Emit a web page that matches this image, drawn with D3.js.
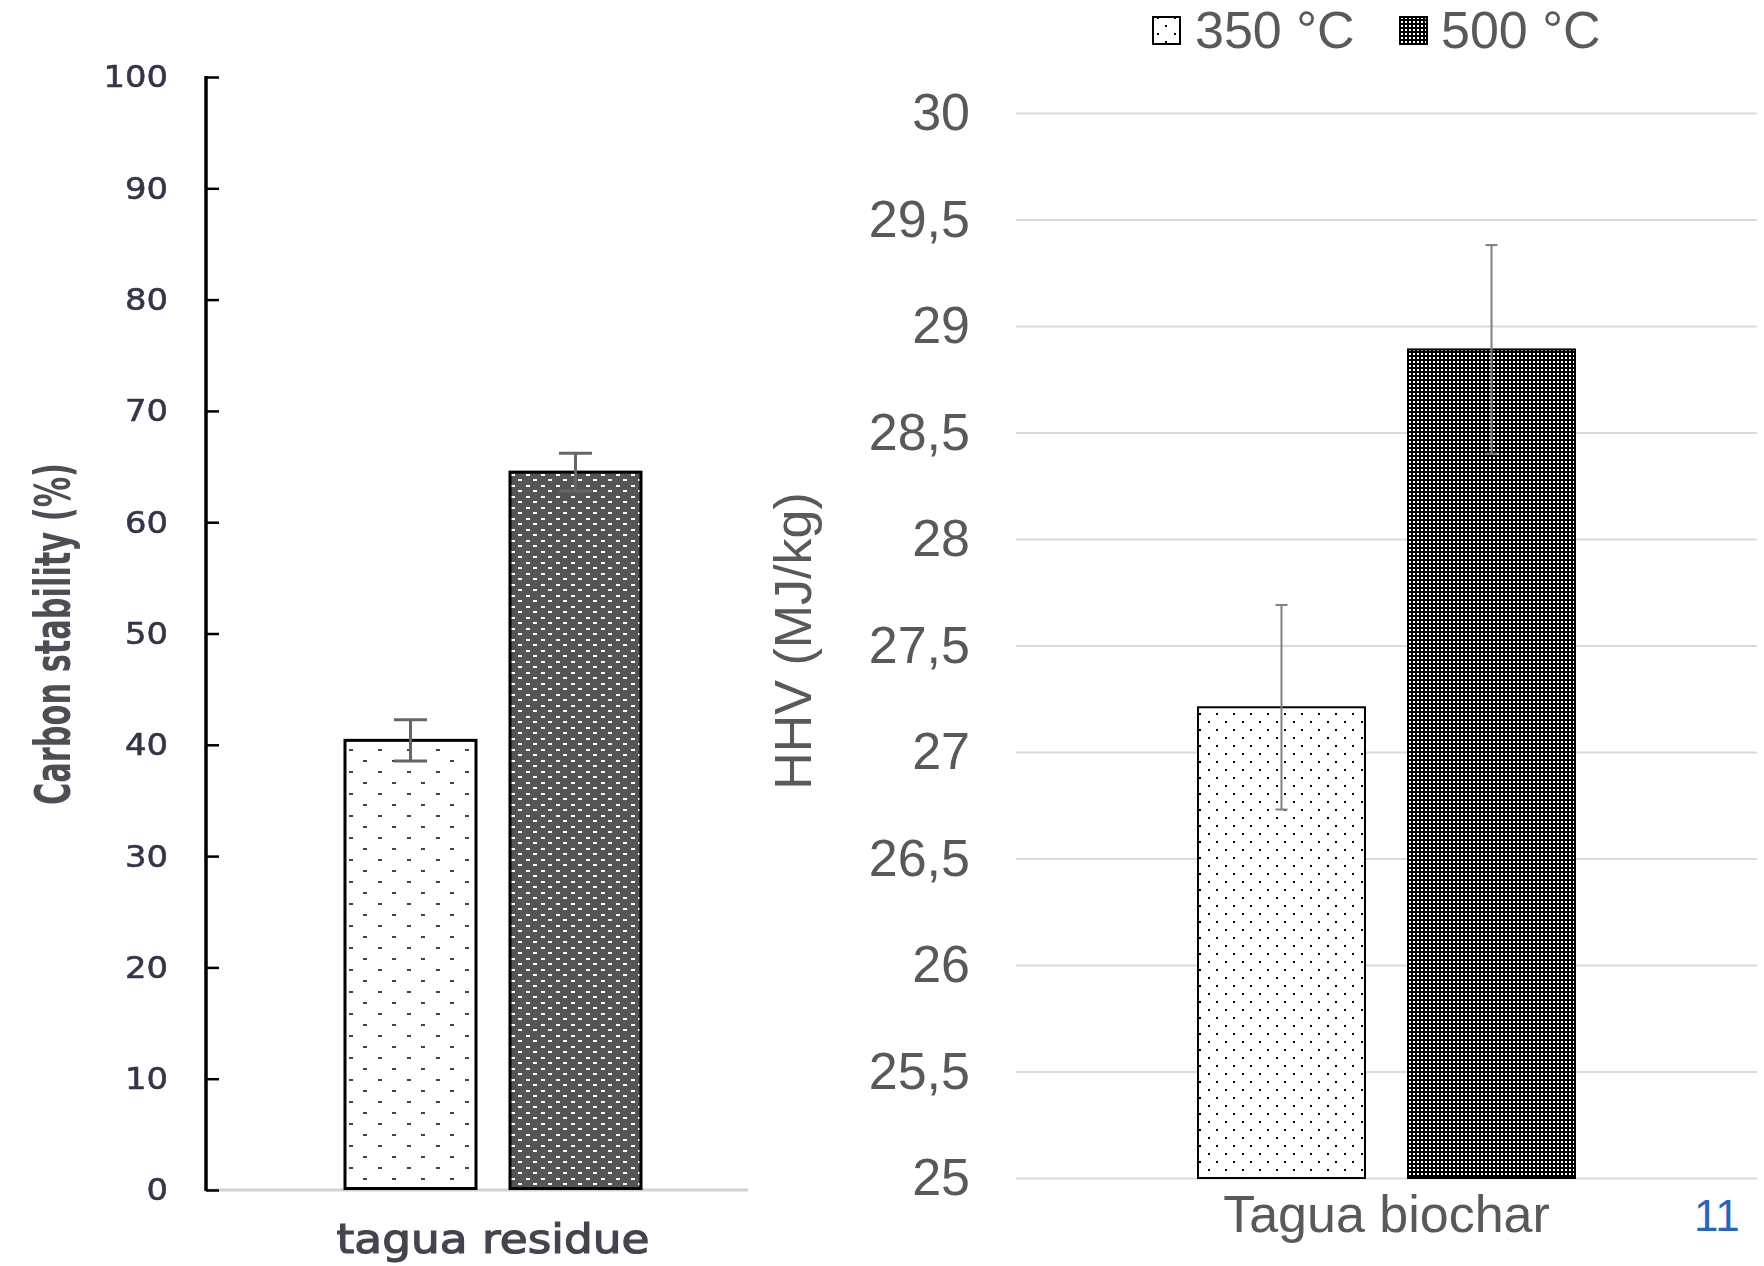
<!DOCTYPE html>
<html>
<head>
<meta charset="utf-8">
<script src="https://cdn.jsdelivr.net/npm/d3@7"></script>
<style>
  html, body { margin: 0; padding: 0; background: #fff; }
  svg { display: block; }
</style>
</head>
<body>
<svg id="chart" width="1764" height="1266"></svg>
<script>
// ---- Data ----
const seriesNames = ["350 °C", "500 °C"];

// Left panel: carbon stability of the tagua residue
const stabilityCategories = ["tagua residue"];
const stabilityValues = [40.4, 64.5];
const stabilityErrors = [1.85, 1.7];
const stabilityTicks = [0, 10, 20, 30, 40, 50, 60, 70, 80, 90, 100];

// Right panel: higher heating value of the tagua biochar
const hhvCategories = ["Tagua biochar"];
const hhvValues = [27.21, 28.89];
const hhvErrors = [0.48, 0.49];
const hhvTicks = [25, 25.5, 26, 26.5, 27, 27.5, 28, 28.5, 29, 29.5, 30];
const hhvTickLabels = ["25", "25,5", "26", "26,5", "27", "27,5", "28", "28,5", "29", "29,5", "30"];

const pageNumber = "11";

// ---- Setup ----
const svg = d3.select("#chart");
svg.append("rect").attr("width", 1764).attr("height", 1266).attr("fill", "#fff");

const defs = svg.append("defs");

function dotPattern(id, w, h, bg, dot, dots) {
  const p = defs.append("pattern")
    .attr("id", id)
    .attr("patternUnits", "userSpaceOnUse")
    .attr("width", w).attr("height", h);
  p.append("rect").attr("width", w).attr("height", h).attr("fill", bg);
  dots.forEach(d => p.append("rect")
    .attr("x", d[0]).attr("y", d[1]).attr("width", d[2]).attr("height", d[3])
    .attr("fill", dot));
}

// Left panel fills
dotPattern("leftLight", 29, 22, "#fff", "#444", [[1, 1, 4, 2], [15, 12, 4, 2]]);
dotPattern("leftDark", 15, 11, "#555", "#fff", [[1, 1, 4, 2], [8, 6, 4, 2]]);
// Right panel fills
dotPattern("rightLight", 17, 16, "#fff", "#000", [[1, 1, 2, 2], [9, 9, 2, 2]]);
dotPattern("rightDark", 4, 4, "#000", "#fff", [[1, 1, 2, 2]]);

const soft = defs.append("filter").attr("id", "soft");
soft.append("feGaussianBlur").attr("stdDeviation", 0.6);

// ================= Left panel =================
const L = { x0: 206, x1: 748, yTop: 77, yBase: 1190 };

const yL = d3.scaleLinear().domain([0, 100]).range([L.yBase, L.yTop]);
const xL0 = d3.scaleBand().domain(stabilityCategories).range([345, 641]);
const xL1 = d3.scaleBand().domain(seriesNames).range([0, xL0.bandwidth()]).paddingInner(0.206);

const left = svg.append("g");

// baseline
left.append("line")
  .attr("x1", L.x0).attr("x2", L.x1)
  .attr("y1", L.yBase).attr("y2", L.yBase)
  .attr("stroke", "#d2d2d2").attr("stroke-width", 3);

// y axis with inward ticks
const axL = left.append("g")
  .attr("transform", `translate(${L.x0},0)`)
  .call(d3.axisLeft(yL).tickValues(stabilityTicks).tickSize(-13).tickPadding(38).tickFormat(d3.format("d")));
axL.select(".domain").remove();
axL.selectAll(".tick line").attr("stroke", "#000").attr("stroke-width", 2.5);
axL.selectAll(".tick text")
  .attr("font-family", "'DejaVu Sans', Verdana, sans-serif")
  .attr("font-size", 31)
  .attr("fill", "#34344a")
  .attr("stroke", "#34344a").attr("stroke-width", 0.6)
  .attr("filter", "url(#soft)")
  .each(function(d) {
    const s = String(d);
    d3.select(this).attr("textLength", 21.5 * s.length).attr("lengthAdjust", "spacingAndGlyphs");
  });
left.append("line")
  .attr("x1", L.x0).attr("x2", L.x0)
  .attr("y1", L.yTop - 1).attr("y2", L.yBase + 1)
  .attr("stroke", "#000").attr("stroke-width", 3.5);

// bars
const leftFills = ["url(#leftLight)", "url(#leftDark)"];
stabilityCategories.forEach(cat => {
  seriesNames.forEach((s, i) => {
    const x = xL0(cat) + xL1(s);
    left.append("rect")
      .attr("x", x).attr("width", xL1.bandwidth())
      .attr("y", yL(stabilityValues[i]))
      .attr("height", yL(0) - yL(stabilityValues[i]) - 1.5)
      .attr("fill", leftFills[i])
      .attr("stroke", "#000").attr("stroke-width", 3);
  });
});

// error bars
stabilityCategories.forEach(cat => {
  seriesNames.forEach((s, i) => {
    const cx = xL0(cat) + xL1(s) + xL1.bandwidth() / 2;
    const top = yL(stabilityValues[i] + stabilityErrors[i]);
    const bot = yL(stabilityValues[i] - stabilityErrors[i]);
    const g = left.append("g").attr("stroke", "#666").attr("stroke-width", 3);
    g.append("line").attr("x1", cx).attr("x2", cx).attr("y1", top).attr("y2", bot);
    g.append("line").attr("x1", cx - 16.5).attr("x2", cx + 16.5).attr("y1", top).attr("y2", top);
    g.append("line").attr("x1", cx - 16.5).attr("x2", cx + 16.5).attr("y1", bot).attr("y2", bot);
  });
});

// category label
left.selectAll(".catL").data(stabilityCategories).join("text")
  .attr("x", d => xL0(d) + xL0.bandwidth() / 2)
  .attr("y", 1253)
  .attr("text-anchor", "middle")
  .attr("font-family", "'DejaVu Sans', Verdana, sans-serif")
  .attr("font-size", 41)
  .attr("fill", "#444450")
  .attr("stroke", "#444450").attr("stroke-width", 1.2)
  .attr("textLength", 313).attr("lengthAdjust", "spacingAndGlyphs")
  .attr("filter", "url(#soft)")
  .text(d => d);

// y title
left.append("text")
  .attr("transform", "translate(70,634) rotate(-90)")
  .attr("text-anchor", "middle")
  .attr("font-family", "'DejaVu Sans Condensed', 'DejaVu Sans', sans-serif")
  .attr("font-weight", "bold")
  .attr("font-size", 50)
  .attr("fill", "#4d4d55")
  .attr("textLength", 342).attr("lengthAdjust", "spacingAndGlyphs")
  .attr("filter", "url(#soft)")
  .text("Carbon stability (%)");

// ================= Right panel =================
const R = { x0: 1016, x1: 1757, yTop: 113, yBase: 1178 };
const yR = d3.scaleLinear().domain([25, 30]).range([R.yBase, R.yTop]);
const xR0 = d3.scaleBand().domain(hhvCategories).range([1198, 1575]);
const xR1 = d3.scaleBand().domain(seriesNames).range([0, xR0.bandwidth()]).paddingInner(0.205);

const right = svg.append("g");

const axR = right.append("g")
  .attr("transform", `translate(${R.x0},0)`)
  .call(d3.axisLeft(yR).tickValues(hhvTicks).tickSize(-(R.x1 - R.x0)).tickPadding(46)
    .tickFormat((d, i) => hhvTickLabels[i]));
axR.select(".domain").remove();
axR.selectAll(".tick line").attr("stroke", "#d9d9d9").attr("stroke-width", 2);
axR.selectAll(".tick text")
  .attr("font-family", "'Liberation Sans', Arial, sans-serif")
  .attr("font-size", 52)
  .attr("fill", "#595959");

const rightFills = ["url(#rightLight)", "url(#rightDark)"];
hhvCategories.forEach(cat => {
  seriesNames.forEach((s, i) => {
    right.append("rect")
      .attr("x", xR0(cat) + xR1(s)).attr("width", xR1.bandwidth())
      .attr("y", yR(hhvValues[i]))
      .attr("height", yR(25) - yR(hhvValues[i]))
      .attr("fill", rightFills[i])
      .attr("stroke", "#000").attr("stroke-width", 2);
  });
});

hhvCategories.forEach(cat => {
  seriesNames.forEach((s, i) => {
    const cx = xR0(cat) + xR1(s) + xR1.bandwidth() / 2;
    const top = yR(hhvValues[i] + hhvErrors[i]);
    const bot = yR(hhvValues[i] - hhvErrors[i]);
    const g = right.append("g").attr("stroke", "#7f7f7f").attr("stroke-width", 2);
    g.append("line").attr("x1", cx).attr("x2", cx).attr("y1", top).attr("y2", bot);
    g.append("line").attr("x1", cx - 6).attr("x2", cx + 6).attr("y1", top).attr("y2", top);
    g.append("line").attr("x1", cx - 6).attr("x2", cx + 6).attr("y1", bot).attr("y2", bot);
  });
});

right.selectAll(".catR").data(hhvCategories).join("text")
  .attr("x", d => xR0(d) + xR0.bandwidth() / 2)
  .attr("y", 1232)
  .attr("text-anchor", "middle")
  .attr("font-family", "'Liberation Sans', Arial, sans-serif")
  .attr("font-size", 52)
  .attr("fill", "#595959")
  .text(d => d);

right.append("text")
  .attr("transform", "translate(811,641) rotate(-90)")
  .attr("text-anchor", "middle")
  .attr("font-family", "'Liberation Sans', Arial, sans-serif")
  .attr("font-size", 52)
  .attr("fill", "#595959")
  .text("HHV (MJ/kg)");

// legend
const legendX = [1153, 1400];
const legendTextX = [1195, 1441];
seriesNames.forEach((s, i) => {
  right.append("rect")
    .attr("x", legendX[i]).attr("y", 17).attr("width", 27).attr("height", 27)
    .attr("fill", rightFills[i])
    .attr("stroke", "#000").attr("stroke-width", 2);
  right.append("text")
    .attr("x", legendTextX[i]).attr("y", 48)
    .attr("font-family", "'Liberation Sans', Arial, sans-serif")
    .attr("font-size", 52)
    .attr("fill", "#595959")
    .text(s);
});

// page number
svg.append("text")
  .attr("x", 1694).attr("y", 1231)
  .attr("font-family", "'Liberation Sans', Arial, sans-serif")
  .attr("font-size", 44)
  .attr("fill", "#2563c6")
  .text(pageNumber);
</script>
</body>
</html>
